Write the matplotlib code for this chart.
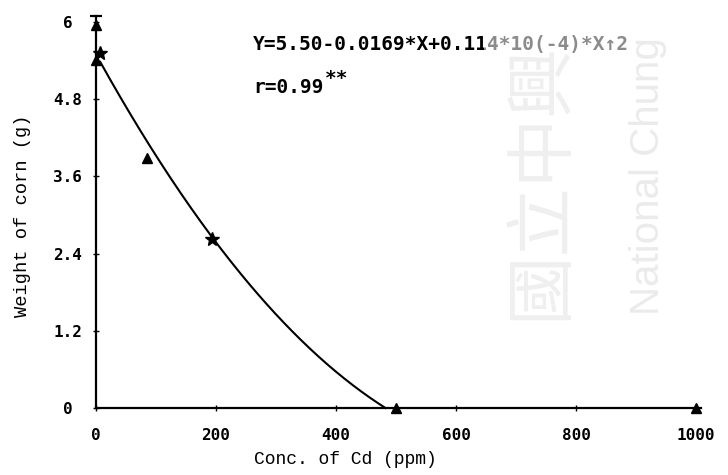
import numpy as np
import matplotlib
matplotlib.use('Agg')
import matplotlib.pyplot as plt
from matplotlib.patches import Rectangle

# measured points (triangles and stars)
tri_x = [0, 0, 85, 500, 1000]
tri_y = [5.96, 5.41, 3.89, 0.0, 0.0]
star_x = [7, 193]
star_y = [5.52, 2.63]

# fitted regression printed on the chart
coef_a = 5.50
coef_b = -0.0169
coef_c = 0.114e-4

x_ticks = [0, 200, 400, 600, 800, 1000]
x_labels = ['0', '200', '400', '600', '800', '1000']
y_ticks = [0, 1.2, 2.4, 3.6, 4.8, 6.0]
y_labels = ['0', '1.2', '2.4', '3.6', '4.8', '6']

W, H = 728, 475
fig = plt.figure(figsize=(W / 100, H / 100), dpi=100)
ax = fig.add_axes([96 / W, 67 / H, 604.8 / W, 392.3 / H])
ax.set_xlim(0, 1008)
ax.set_ylim(0, 6.1)

for s in ['top', 'right']:
    ax.spines[s].set_visible(False)
for s in ['left', 'bottom']:
    ax.spines[s].set_linewidth(1.6)

# regression curve, from first point down to where it reaches zero
root = min(r.real for r in np.roots([coef_c, coef_b, coef_a]))
xs = np.linspace(star_x[0], root, 200)
ys = coef_a + coef_b * xs + coef_c * xs ** 2
ax.plot(xs, ys, color='black', lw=1.5, clip_on=False)

ax.plot(tri_x, tri_y, linestyle='none', marker='^', color='black',
        markersize=6.5, clip_on=False, zorder=5)
ax.plot(star_x, star_y, linestyle='none', marker='*', color='black',
        markersize=10, clip_on=False, zorder=5)
ax.plot([0], [6.1], marker='_', color='black', markersize=8,
        markeredgewidth=1.6, clip_on=False)

tick_font = dict(family='DejaVu Sans Mono', weight='bold', size=11.5)
ax.set_xticks(x_ticks)
ax.set_xticklabels(x_labels, fontdict=tick_font)
ax.set_yticks(y_ticks)
ax.set_yticklabels(y_labels, fontdict=tick_font)
for lab in ax.get_yticklabels():
    lab.set_ha('center')
ax.tick_params(axis='both', direction='inout', length=5, width=1)
ax.tick_params(axis='y', pad=18)
ax.tick_params(axis='x', pad=12)

ax.set_xlabel('Conc. of Cd (ppm)', family='Liberation Mono', size=13)
ax.xaxis.set_label_coords(0.412, -0.11)
ax.set_ylabel('Weight of corn (g)', family='Liberation Mono', size=13.5)
ax.yaxis.set_label_coords(-0.107, 0.49)

eq_font = dict(family='DejaVu Sans Mono', weight='bold', size=14)
ax.text(262, 5.65, 'Y=5.50-0.0169*X+0.114*10(-4)*X\u21912',
        va='center', ha='left', fontdict=eq_font)
ax.text(262, 4.98, 'r=0.99', va='center', ha='left', fontdict=eq_font)
ax.text(382, 5.12, '**', va='center', ha='left', fontdict=eq_font)

# library watermark
fig.add_artist(Rectangle((484 / W, 1 - 340 / H), 244 / W, 340 / H,
                         transform=fig.transFigure, facecolor='white',
                         edgecolor='none', alpha=0.55, zorder=5))
fig.text(540 / W, 1 - 320 / H, '國立中興', rotation=90, ha='center',
         va='bottom', color='#efefef', size=50,
         family=['Noto Sans CJK TC', 'DejaVu Sans'], zorder=6)
fig.text(648 / W, 1 - 315 / H, 'National Chung', rotation=90,
         ha='center', va='bottom', color='#ebebeb', size=29,
         family='Liberation Sans', zorder=6)

fig.savefig('out.png', dpi=100)
